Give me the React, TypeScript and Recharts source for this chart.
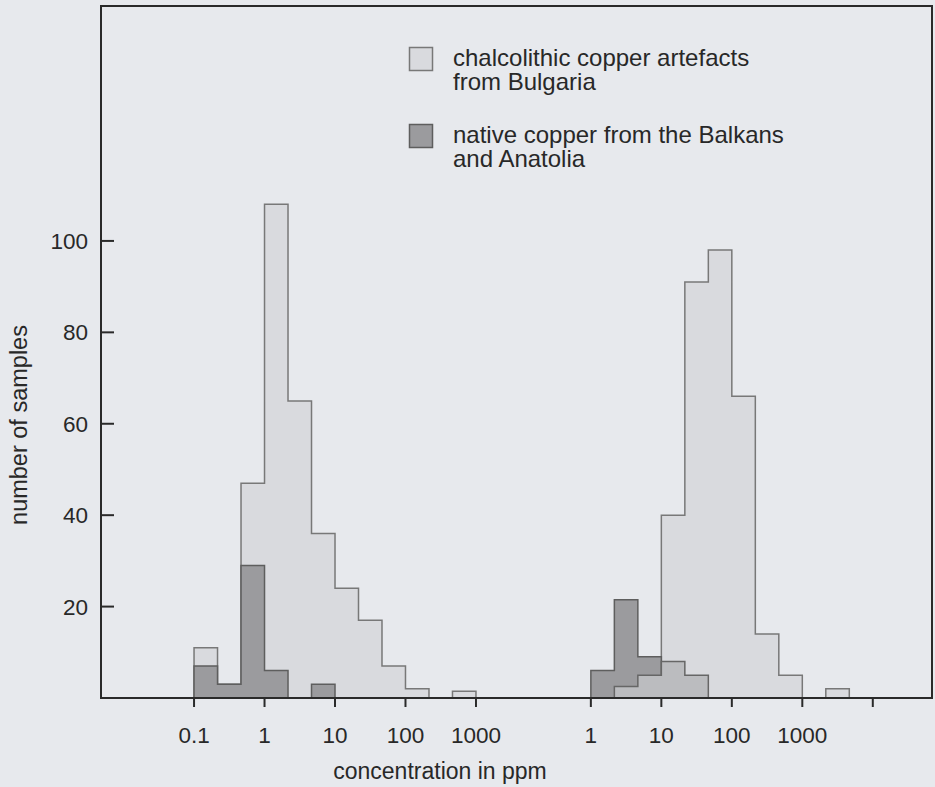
import React from 'react';
import { ComposedChart, Area, XAxis, YAxis, Legend, Label, ReferenceArea } from 'recharts';

// Histogram bins: three per decade of concentration
const BINS_PER_DECADE = 3;

// First bin edge of each panel (ppm)
const LEFT_START = 0.1;
const RIGHT_START = 1;
// Where the right-hand concentration scale begins, in decades from the 0.1 ppm mark
const RIGHT_SCALE_OFFSET = 5.63;

const X_DOMAIN: [number, number] = [-1.32, 10.47];
const Y_DOMAIN: [number, number] = [0, 151.4];

const leftTickValues = [0.1, 1, 10, 100, 1000];
const leftTickLabels = ['0.1', '1', '10', '100', '1000'];
const rightTickValues = [1, 10, 100, 1000, 10000];
const rightTickLabels = ['1', '10', '100', '1000', ''];

const yTickValues = [20, 40, 60, 80, 100];

// Number of samples per bin, left panel (bins from 0.1 ppm)
const artefactsLeft = [11, 3, 47, 108, 65, 36, 24, 17, 7, 2, 0, 1.5];
const nativeLeft = [7, 3, 29, 6, 0, 3];
// Number of samples per bin, right panel (bins from 1 ppm)
const artefactsRight = [0, 0, 0, 40, 91, 98, 66, 14, 5, 0, 2];
const nativeRight = [6, 21.5, 9];
const overlapRight = [0, 2.5, 5, 8, 5];

const legendEntries = [
  { lines: ['chalcolithic copper artefacts', 'from Bulgaria'], kind: 'artefacts' },
  { lines: ['native copper from the Balkans', 'and Anatolia'], kind: 'native' },
];

const BG = '#e7e9ed';
const INK = '#2a2a2a';
const TEXT = '#282828';
const FONT = '"Liberation Sans", Arial, Helvetica, sans-serif';

const STYLE: Record<string, { fill: string; stroke: string }> = {
  artefacts: { fill: '#d9dade', stroke: '#787878' },
  native: { fill: '#9b9b9e', stroke: '#5e5e5e' },
  overlap: { fill: '#bbbcbf', stroke: '#666666' },
};

const leftPos = (ppm: number) => Math.log10(ppm / LEFT_START);
const rightPos = (ppm: number) => RIGHT_SCALE_OFFSET + Math.log10(ppm / RIGHT_START);

type Pt = { x: number; y: number | null };

// Step outline of a histogram: one closed run per group of non-empty bins
function histogramOutline(counts: number[], startPos: number): Pt[] {
  const edge = (k: number) => startPos + k / BINS_PER_DECADE;
  const pts: Pt[] = [];
  let i = 0;
  while (i < counts.length) {
    if (!counts[i]) {
      i++;
      continue;
    }
    let j = i;
    while (j + 1 < counts.length && counts[j + 1]) j++;
    if (pts.length) pts.push({ x: edge(i), y: null });
    pts.push({ x: edge(i), y: 0 });
    for (let k = i; k <= j; k++) pts.push({ x: edge(k), y: counts[k] });
    pts.push({ x: edge(j + 1), y: 0 });
    i = j + 1;
  }
  return pts;
}

function joinPanels(a: Pt[], b: Pt[]): Pt[] {
  if (!a.length) return b;
  if (!b.length) return a;
  return [...a, { x: b[0].x, y: null }, ...b];
}

const artefactsData = joinPanels(
  histogramOutline(artefactsLeft, leftPos(LEFT_START)),
  histogramOutline(artefactsRight, rightPos(RIGHT_START))
);
const nativeData = joinPanels(
  histogramOutline(nativeLeft, leftPos(LEFT_START)),
  histogramOutline(nativeRight, rightPos(RIGHT_START))
);
const overlapData = histogramOutline(overlapRight, rightPos(RIGHT_START));

const xTicks = [...leftTickValues.map(leftPos), ...rightTickValues.map(rightPos)];
const xTickLabels = [...leftTickLabels, ...rightTickLabels];
const labelFor = (pos: number) => {
  const idx = xTicks.findIndex((t) => Math.abs(t - pos) < 1e-6);
  return idx >= 0 ? xTickLabels[idx] : '';
};

const YTick = ({ x, y, payload }: any) => (
  <g>
    <line x1={x} x2={x + 13} y1={y} y2={y} stroke={INK} strokeWidth={2} />
    <text x={x - 13} y={y + 8} textAnchor="end" fontSize={22.5} fill={TEXT} fontFamily={FONT}>
      {payload.value}
    </text>
  </g>
);

const YTitle = ({ viewBox }: any) => {
  const cx = viewBox.x + 27;
  const cy = viewBox.y + 419;
  return (
    <text
      transform={`translate(${cx}, ${cy}) rotate(-90)`}
      textAnchor="middle"
      fontSize={23.5}
      fill={TEXT}
      fontFamily={FONT}
    >
      number of samples
    </text>
  );
};

const XTitle = ({ viewBox }: any) => (
  <text
    x={viewBox.x + 339}
    y={viewBox.y + 81}
    textAnchor="middle"
    fontSize={23}
    fill={TEXT}
    fontFamily={FONT}
  >
    concentration in ppm
  </text>
);

const LegendBox = () => (
  <svg width={430} height={150} style={{ display: 'block', overflow: 'visible' }}>
    {legendEntries.map((entry, i) => {
      const top = i * 77;
      const s = STYLE[entry.kind];
      return (
        <g key={entry.kind}>
          <rect x={9.5} y={top + 7.5} width={23} height={23} fill={s.fill} stroke={s.stroke} strokeWidth={1.5} />
          {entry.lines.map((line, li) => (
            <text
              key={li}
              x={53}
              y={top + 25.5 + li * 24.5}
              fontSize={24}
              fill={TEXT}
              fontFamily={FONT}
            >
              {line}
            </text>
          ))}
        </g>
      );
    })}
  </svg>
);

export default function App() {
  return (
    <div style={{ position: 'fixed', left: 0, top: 0, width: 935, height: 787, background: BG }}>
      <ComposedChart width={935} height={787} margin={{ top: 6, right: 3, bottom: 0, left: 0 }}>
        <Area
          data={artefactsData}
          dataKey="y"
          type="stepAfter"
          fill={STYLE.artefacts.fill}
          fillOpacity={1}
          stroke={STYLE.artefacts.stroke}
          strokeWidth={1.5}
          connectNulls={false}
          isAnimationActive={false}
          dot={false}
          activeDot={false}
        />
        <Area
          data={nativeData}
          dataKey="y"
          type="stepAfter"
          fill={STYLE.native.fill}
          fillOpacity={1}
          stroke={STYLE.native.stroke}
          strokeWidth={1.5}
          connectNulls={false}
          isAnimationActive={false}
          dot={false}
          activeDot={false}
        />
        <Area
          data={overlapData}
          dataKey="y"
          type="stepAfter"
          fill={STYLE.overlap.fill}
          fillOpacity={1}
          stroke={STYLE.overlap.stroke}
          strokeWidth={1.5}
          connectNulls={false}
          isAnimationActive={false}
          dot={false}
          activeDot={false}
        />
        {/* plot frame */}
        <ReferenceArea
          x1={X_DOMAIN[0]}
          x2={X_DOMAIN[1]}
          y1={Y_DOMAIN[0]}
          y2={Y_DOMAIN[1]}
          fill="none"
          fillOpacity={0}
          stroke={INK}
          strokeWidth={2}
          strokeOpacity={1}
          ifOverflow="visible"
        />
        <XAxis
          dataKey="x"
          type="number"
          domain={X_DOMAIN}
          allowDataOverflow
          ticks={xTicks}
          interval={0}
          tickFormatter={labelFor}
          height={89}
          tickSize={9}
          tickMargin={20}
          axisLine={{ stroke: INK, strokeWidth: 2 }}
          tickLine={{ stroke: INK, strokeWidth: 2 }}
          tick={{ fontSize: 22.5, fill: TEXT, fontFamily: FONT }}
        >
          <Label content={XTitle} />
        </XAxis>
        <YAxis
          type="number"
          domain={Y_DOMAIN}
          allowDataOverflow
          ticks={yTickValues}
          interval={0}
          width={101}
          tickSize={0}
          tickMargin={0}
          tickLine={false}
          axisLine={{ stroke: INK, strokeWidth: 2 }}
          tick={<YTick />}
        >
          <Label content={YTitle} />
        </YAxis>
        <Legend
          verticalAlign="middle"
          align="center"
          layout="horizontal"
          wrapperStyle={{ position: 'absolute', left: 400, top: 40, width: 430, height: 150 }}
          content={() => <LegendBox />}
        />
      </ComposedChart>
    </div>
  );
}
